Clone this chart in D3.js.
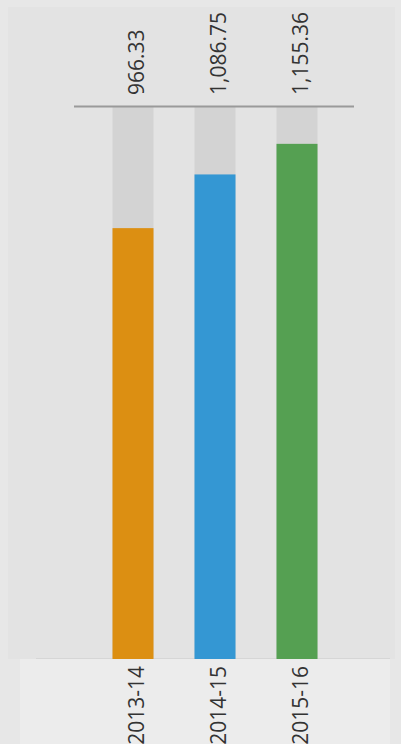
<!DOCTYPE html>
<html>
<head>
<meta charset="utf-8">
<script src="https://cdn.jsdelivr.net/npm/d3@7"></script>
<style>
  html, body { margin: 0; padding: 0; background: #e7e7e7; overflow: hidden; }
  text { font-family: "Open Sans", "Noto Sans", sans-serif; fill: #333; }
</style>
</head>
<body>
<svg id="chart" width="401" height="744"></svg>
<script>
// values
var years = ["2013-14", "2014-15", "2015-16"];
var amounts = [966.33, 1086.75, 1155.36];
var barColors = ["#dc8f12", "#3497d3", "#55a052"];
var yMax = 1238;

var W = 401, H = 744;
var plotTop = 107, base = 659;

var svg = d3.select("#chart");

// panel backgrounds
svg.append("rect").attr("x", 8).attr("y", 7).attr("width", W - 14).attr("height", base - 7)
    .attr("fill", "#e3e3e3");
svg.append("rect").attr("x", 20).attr("y", base).attr("width", 370).attr("height", H - base)
    .attr("fill", "#ececec");
svg.append("line").attr("x1", 36).attr("x2", 390).attr("y1", base - 0.5).attr("y2", base - 0.5)
    .attr("stroke", "#d6d6d6").attr("stroke-width", 1);

var x = d3.scaleBand().domain(years).range([92, 338]).paddingInner(0.5).paddingOuter(0.25);
var y = d3.scaleLinear().domain([0, yMax]).range([base, plotTop]);

// grey tracks behind each bar
svg.append("g").selectAll("rect").data(years).enter().append("rect")
    .attr("x", d => x(d))
    .attr("y", y(yMax))
    .attr("width", x.bandwidth())
    .attr("height", y(0) - y(yMax))
    .attr("fill", "#d3d3d3");

// bars
svg.append("g").selectAll("rect").data(amounts).enter().append("rect")
    .attr("x", (d, i) => x(years[i]))
    .attr("y", d => y(d))
    .attr("width", x.bandwidth())
    .attr("height", d => y(0) - y(d))
    .attr("fill", (d, i) => barColors[i]);

// top rule
svg.append("line").attr("x1", 74).attr("x2", 354).attr("y1", plotTop - 0.5).attr("y2", plotTop - 0.5)
    .attr("stroke", "#9a9a9a").attr("stroke-width", 2);

var fmt = d3.format(",.2f");

// value labels
svg.append("g").selectAll("text").data(amounts).enter().append("text")
    .attr("transform", (d, i) => "translate(" + (x(years[i]) + x.bandwidth() / 2) + "," + 95 + ") rotate(-90)")
    .attr("dy", "0.52em")
    .attr("text-anchor", "start")
    .style("font-size", "21px")
    .text(d => fmt(d));

// year labels
svg.append("g").selectAll("text").data(years).enter().append("text")
    .attr("transform", d => "translate(" + (x(d) + x.bandwidth() / 2) + "," + 666 + ") rotate(-90)")
    .attr("dy", "0.52em")
    .attr("text-anchor", "end")
    .style("font-size", "21px")
    .text(d => d);
</script>
</body>
</html>
